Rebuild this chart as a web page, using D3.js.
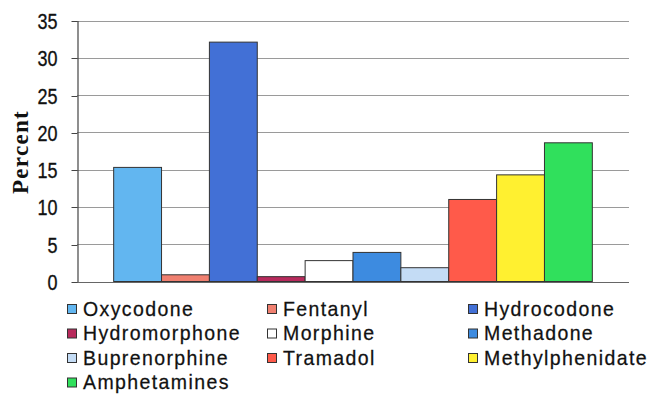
<!DOCTYPE html>
<html>
<head>
<meta charset="utf-8">
<script src="https://cdn.jsdelivr.net/npm/d3@7"></script>
<style>
  html, body { margin: 0; padding: 0; background: #ffffff; }
  svg { display: block; }
</style>
</head>
<body>
<svg id="chart" width="664" height="413"></svg>
<script>
// ---- data ----
const categories = ["Oxycodone", "Fentanyl", "Hydrocodone", "Hydromorphone", "Morphine",
                    "Methadone", "Buprenorphine", "Tramadol", "Methylphenidate", "Amphetamines"];
const values = [15.3, 0.9, 32.1, 0.65, 2.8, 3.9, 1.85, 11.0, 14.3, 18.6];
const colors = ["#62b6f0", "#f08070", "#4270d6", "#b82a5c", "#ffffff",
                "#3d8be0", "#c4dcf5", "#ff5a4a", "#fff030", "#30e05c"];
const yTicks = [0, 5, 10, 15, 20, 25, 30, 35];
const yLabel = "Percent";
const legendCols = 3;

// ---- layout ----
const svg = d3.select("#chart");
const plot = { left: 77, right: 629, top: 20.5, bottom: 281.5 };

const x = d3.scaleBand().domain(categories).range([plot.left, plot.right])
  .paddingInner(0).paddingOuter(0.766);
const y = d3.scaleLinear().domain([0, 35]).range([plot.bottom, plot.top]);

// gridlines
svg.append("g").selectAll("line").data(yTicks).join("line")
  .attr("x1", plot.left).attr("x2", plot.right)
  .attr("y1", d => Math.round(y(d)) + 0.5).attr("y2", d => Math.round(y(d)) + 0.5)
  .attr("stroke", d => d === 0 ? "#666" : "#9a9a9a").attr("stroke-width", 1);

// y axis
const yAxis = d3.axisLeft(y).tickValues(yTicks).tickSize(6).tickSizeOuter(0).tickPadding(0);
const ga = svg.append("g").attr("transform", `translate(${plot.left + 0.5},0)`).call(yAxis);
ga.select(".domain").attr("stroke", "#444").attr("stroke-width", 1.2);
ga.selectAll(".tick line").attr("stroke", "#444");
ga.selectAll(".tick").each(function () {
  const t = d3.select(this);
  const ty = t.attr("transform");
  t.attr("transform", ty.replace(/translate\(([^,]+),([^)]+)\)/, (m, a, b) => `translate(${a},${Math.round(+b) + 0.5})`));
});
ga.selectAll(".tick text")
  .attr("x", null).attr("dy", null)
  .attr("transform", "translate(-20,7.5) scale(0.9,1.1)")
  .attr("text-anchor", "end")
  .attr("font-family", "'Liberation Sans', Arial, sans-serif")
  .attr("font-size", 20)
  .attr("stroke", "#111").attr("stroke-width", 0.3)
  .attr("fill", "#111");

// bars
svg.append("g").selectAll("rect").data(categories).join("rect")
  .attr("x", d => x(d))
  .attr("y", (d, i) => y(values[i]))
  .attr("width", x.bandwidth())
  .attr("height", (d, i) => y(0) - y(values[i]))
  .attr("fill", (d, i) => colors[i])
  .attr("stroke", "#333")
  .attr("stroke-width", 1);

// y label
svg.append("text")
  .attr("transform", "translate(28,152) rotate(-90)")
  .attr("text-anchor", "middle")
  .attr("font-family", "'Liberation Serif', 'Times New Roman', serif")
  .attr("font-weight", "bold")
  .attr("font-size", 23)
  .attr("letter-spacing", 1.3)
  .attr("fill", "#111")
  .text(yLabel);

// legend
const colX = [67, 267, 468];
const rowY0 = 309, rowStep = 24.5;
const lg = svg.append("g").selectAll("g").data(categories).join("g")
  .attr("transform", (d, i) => `translate(${colX[i % legendCols]},${rowY0 + Math.floor(i / legendCols) * rowStep})`);
lg.append("rect")
  .attr("x", 0.5).attr("y", -4.5).attr("width", 9).attr("height", 9)
  .attr("fill", (d, i) => colors[i])
  .attr("stroke", "#333").attr("stroke-width", 1);
lg.append("text")
  .attr("transform", "translate(16,6.5) scale(1,1.08)")
  .attr("font-family", "'Liberation Sans', Arial, sans-serif")
  .attr("font-size", 19.5)
  .attr("letter-spacing", 1.4)
  .attr("stroke", "#111").attr("stroke-width", 0.25)
  .attr("fill", "#111")
  .text(d => d);
</script>
</body>
</html>
